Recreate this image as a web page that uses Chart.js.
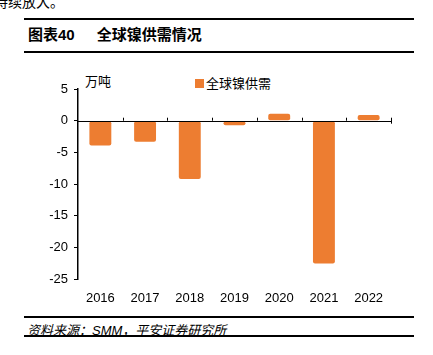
<!DOCTYPE html>
<html><head><meta charset="utf-8">
<script src="https://cdn.jsdelivr.net/npm/chart.js@4/dist/chart.umd.min.js"></script>
<style>
body{margin:0;width:433px;height:355px;position:relative;overflow:hidden;background:#fff;font-family:"Liberation Sans","Noto Sans CJK SC",sans-serif;color:#000}
.abs{position:absolute;white-space:nowrap}
.hr{position:absolute;left:24px;width:390px;background:#000}
#wrap{position:absolute;left:20px;top:60px;width:400px;height:250px}
</style></head><body>
<div class="abs" style="left:-6px;top:-9px;font-size:14px;">持续放大。</div>
<div class="hr" style="top:18px;height:2px"></div>
<div class="abs" style="left:28px;top:23px;font-size:15px;font-weight:bold;">图表40<span style="display:inline-block;width:22px"></span>全球镍供需情况</div>
<div class="hr" style="top:51px;height:1.5px"></div>
<div class="abs" style="left:85px;top:71px;font-size:13px;">万吨</div>
<div class="abs" style="left:195px;top:73px;font-size:13px;"><span style="display:inline-block;width:9px;height:9px;background:#ED7D31;margin-right:2px;vertical-align:-0px"></span>全球镍供需</div>
<div id="wrap"><canvas id="c"></canvas></div>
<div class="hr" style="top:316px;height:1.5px"></div>
<div class="abs" style="left:27px;top:320px;font-size:13px;font-style:italic;">资料来源：SMM，平安证券研究所</div>
<div class="hr" style="top:335px;height:1.5px"></div>
<script>
const categories = ["2016","2017","2018","2019","2020","2021","2022"];
const supplyDemand = [-3.9, -3.3, -9.2, -0.7, 1.1, -22.5, 0.9];
const yTicks = [5, 0, -5, -10, -15, -20, -25];

const xTickPlugin = {
  id: 'xTicks',
  afterDatasetsDraw(chart) {
    const ctx = chart.ctx, x = chart.scales.x, y = chart.scales.y;
    const y0 = y.getPixelForValue(0);
    ctx.save();
    ctx.strokeStyle = '#000'; ctx.lineWidth = 1;
    ctx.beginPath();
    ctx.moveTo(x.left, Math.round(y0)+0.5); ctx.lineTo(x.right, Math.round(y0)+0.5);
    const n = categories.length;
    for (let i = 1; i <= n; i++) {
      const px = Math.round(x.left + i * (x.right - x.left) / n) + 0.5;
      ctx.moveTo(px, y0 - 3); ctx.lineTo(px, y0 + (i === n ? 3 : 0));
    }
    ctx.stroke();
    ctx.restore();
  }
};

new Chart(document.getElementById('c'), {
  type: 'bar',
  data: { labels: categories, datasets: [{ label: '全球镍供需', data: supplyDemand,
    backgroundColor: '#ED7D31', borderRadius: 2, borderSkipped: false,
    barPercentage: 0.49, categoryPercentage: 1 }] },
  options: {
    responsive: true, maintainAspectRatio: false, animation: false,
    layout: { padding: { top: 29, right: 29, left: 0, bottom: 0 } },
    plugins: { legend: { display: false }, tooltip: { enabled: false } },
    scales: {
      x: {
        grid: { display: false, drawTicks: false }, border: { display: false },
        ticks: { color: '#000', font: { family: 'Liberation Sans', size: 13 }, padding: 11, maxRotation: 0 },
        afterFit(s) { s.height = 30.7; }
      },
      y: {
        min: -25, max: 5,
        afterBuildTicks(s) { s.ticks = yTicks.map(v => ({ value: v })); },
        grid: { color: 'transparent', tickColor: '#000', tickLength: 4, drawTicks: true },
        border: { display: true, color: '#000', width: 1.5 },
        ticks: { color: '#000', font: { family: 'Liberation Sans', size: 13 }, padding: 6 },
        afterFit(s) { s.width = 58; }
      }
    }
  },
  plugins: [xTickPlugin]
});
</script>
</body></html>
